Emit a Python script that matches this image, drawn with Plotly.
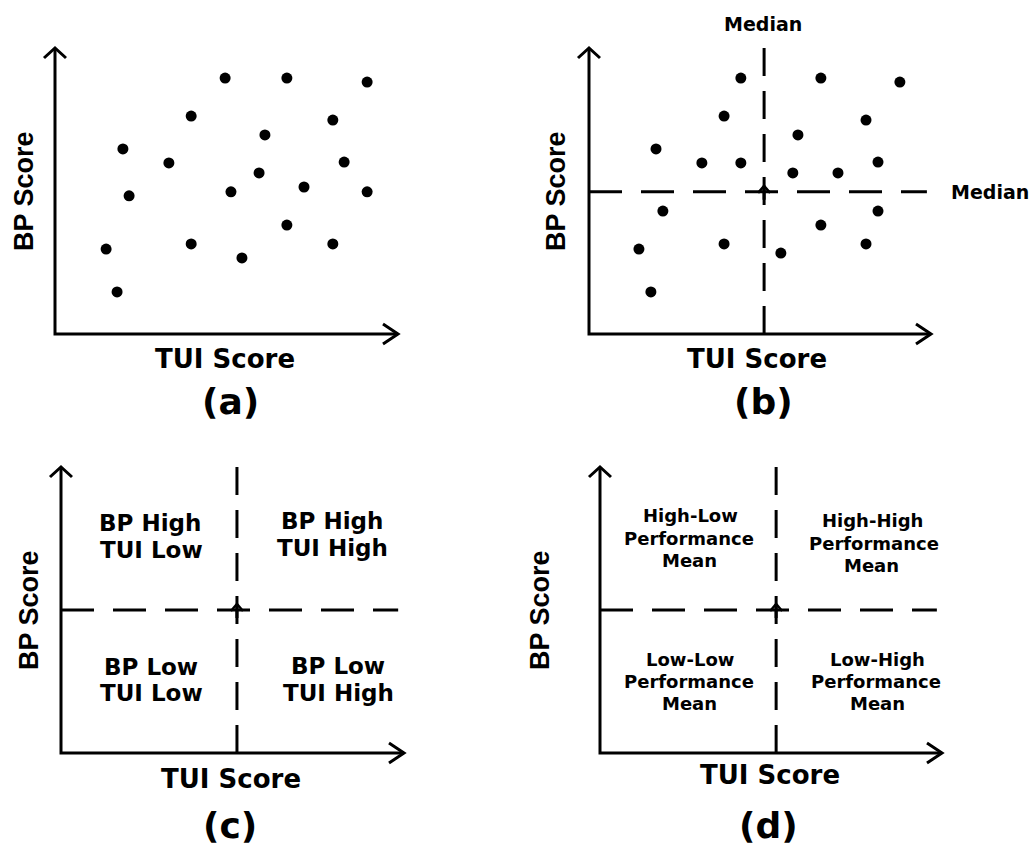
import plotly.graph_objects as go

W, H = 1036, 855
FONT = "Liberation Sans, Arial, sans-serif"
FONT_WIDE = "DejaVu Sans, Verdana, sans-serif"

# ---------------- data (score units, 0-10 on each axis) ----------------
tui_a = [4.96, 6.76, 9.10, 3.97, 8.10, 6.12, 1.98, 3.32, 8.43, 5.95,
         2.16, 5.13, 7.26, 9.10, 6.76, 1.49, 3.97, 8.10, 5.45, 1.81]
bp_a = [8.95, 8.95, 8.81, 7.62, 7.48, 6.96, 6.47, 5.98, 6.01, 5.63,
        4.83, 4.97, 5.14, 4.97, 3.81, 2.97, 3.15, 3.15, 2.66, 1.47]

tui_b = [4.44, 6.78, 9.09, 3.95, 8.10, 6.11, 1.96, 3.30, 4.44, 8.45,
         5.96, 7.28, 2.16, 8.45, 6.78, 1.46, 3.95, 8.10, 5.61, 1.81]
bp_b = [8.95, 8.95, 8.81, 7.62, 7.48, 6.96, 6.47, 5.98, 5.98, 6.01,
        5.63, 5.63, 4.30, 4.30, 3.81, 2.97, 3.15, 3.15, 2.83, 1.47]

median_tui = {"b": 5.12, "c": 5.13, "d": 5.15}
median_bp = {"b": 4.97, "c": 5.00, "d": 5.00}
median_end = {"b": 9.88, "c": 9.83, "d": 9.85}

x_title = "TUI Score"
y_title = "BP Score"
panel_labels = ["(a)", "(b)", "(c)", "(d)"]
median_label = "Median"

quad_c = ["BP High", "TUI Low", "BP High", "TUI High",
          "BP Low", "TUI Low", "BP Low", "TUI High"]
quad_d = ["High-Low", "Performance", "Mean",
          "High-High", "Performance", "Mean",
          "Low-Low", "Performance", "Mean",
          "Low-High", "Performance", "Mean"]

# ---------------- layout geometry (pixels) ----------------
panels = {
    "a": dict(i=1, x0=55, x1=398, y0=334, y1=48),
    "b": dict(i=2, x0=589, x1=931, y0=334, y1=48),
    "c": dict(i=3, x0=61, x1=404, y0=753, y1=467),
    "d": dict(i=4, x0=600, x1=942, y0=753, y1=467),
}
title_pos = {
    "a": dict(tx=(225, 359), ty=(24, 191), lab=(230, 401)),
    "b": dict(tx=(757, 359), ty=(556, 191), lab=(763, 401)),
    "c": dict(tx=(231, 779), ty=(29, 610), lab=(230, 825)),
    "d": dict(tx=(770, 775), ty=(540, 610), lab=(768, 825)),
}
quad_c_pos = [(150, 523), (151, 550), (332, 521), (332, 548),
              (151, 667), (151, 693), (338, 666), (338, 693)]
quad_d_pos = [(690, 515), (689, 538), (689, 560),
              (872, 520), (874, 543), (871, 565),
              (690, 659), (689, 681), (689, 703),
              (877, 659), (876, 681), (877, 703)]

RANGE = 10.0
PAD = 0.6   # extra range so the arrow heads are not clipped


def px(x):
    return x / W


def py(y):
    return 1 - y / H


fig = go.Figure()
shapes = []
annotations = []


def label(text, x, y, size, family=FONT_WIDE, angle=0):
    annotations.append(dict(text=f"<b>{text}</b>", x=px(x), y=py(y),
                            xref="paper", yref="paper", showarrow=False,
                            xanchor="center", yanchor="middle", textangle=angle,
                            font=dict(family=family, size=size, color="black")))


for key, p in panels.items():
    i = p["i"]
    xa, ya = f"x{i}", f"y{i}"
    sx = (p["x1"] - p["x0"]) / RANGE   # px per unit
    sy = (p["y0"] - p["y1"]) / RANGE
    fig.update_layout({
        f"xaxis{i}": dict(domain=[px(p["x0"] - PAD * sx), px(p["x1"] + PAD * sx)],
                          range=[-PAD, RANGE + PAD],
                          visible=False, anchor=ya, fixedrange=True),
        f"yaxis{i}": dict(domain=[py(p["y0"] + PAD * sy), py(p["y1"] - PAD * sy)],
                          range=[-PAD, RANGE + PAD],
                          visible=False, anchor=xa, fixedrange=True),
    })
    # axis lines
    shapes.append(dict(type="path", xref=xa, yref=ya,
                       path=f"M 0,{RANGE} L 0,0 L {RANGE},0",
                       line=dict(color="black", width=3)))
    # arrow heads (open chevrons)
    ax, ay = 11 / sx, 10 / sy
    shapes.append(dict(type="path", xref=xa, yref=ya,
                       path=f"M {-ax},{RANGE - ay} L 0,{RANGE} L {ax},{RANGE - ay}",
                       line=dict(color="black", width=3)))
    bx, by = 15 / sx, 10 / sy
    shapes.append(dict(type="path", xref=xa, yref=ya,
                       path=f"M {RANGE - bx},{by} L {RANGE},0 L {RANGE - bx},{-by}",
                       line=dict(color="black", width=3)))
    # median dashed lines
    if key in median_tui:
        mx, my = median_tui[key], median_bp[key]
        shapes.append(dict(type="line", xref=xa, yref=ya, x0=0, x1=median_end[key],
                           y0=my, y1=my, line=dict(color="black", width=3, dash="33px,19px")))
        shapes.append(dict(type="line", xref=xa, yref=ya, x0=mx, x1=mx,
                           y0=RANGE, y1=0, line=dict(color="black", width=3, dash="28px,15px")))
        # small arrow mark at the crossing
        cx, cy = 6 / sx, 7 / sy
        tip = my + 6 / sy
        shapes.append(dict(type="path", xref=xa, yref=ya,
                           path=f"M {mx - cx},{tip - cy} L {mx},{tip} L {mx + cx},{tip - cy}",
                           line=dict(color="black", width=2.5)))
        shapes.append(dict(type="line", xref=xa, yref=ya, x0=mx, x1=mx,
                           y0=my - 8 / sy, y1=tip,
                           line=dict(color="black", width=3)))

    tp = title_pos[key]
    label(x_title, tp["tx"][0], tp["tx"][1], 26)
    label(y_title, tp["ty"][0], tp["ty"][1], 27, family=FONT, angle=-90)
    label(panel_labels[i - 1], tp["lab"][0], tp["lab"][1], 36)

# scatter points
fig.add_trace(go.Scatter(x=tui_a, y=bp_a, mode="markers", xaxis="x1", yaxis="y1",
                         marker=dict(size=11, color="black"), showlegend=False, hoverinfo="skip"))
fig.add_trace(go.Scatter(x=tui_b, y=bp_b, mode="markers", xaxis="x2", yaxis="y2",
                         marker=dict(size=11, color="black"), showlegend=False, hoverinfo="skip"))
fig.add_trace(go.Scatter(x=[], y=[], xaxis="x3", yaxis="y3", showlegend=False))
fig.add_trace(go.Scatter(x=[], y=[], xaxis="x4", yaxis="y4", showlegend=False))

# median labels
for (x, y) in [(763, 24), (990, 192)]:
    label(median_label, x, y, 19)

for txt, (x, y) in zip(quad_c, quad_c_pos):
    label(txt, x, y, 23)
for txt, (x, y) in zip(quad_d, quad_d_pos):
    label(txt, x, y, 18)

fig.update_layout(width=W, height=H, margin=dict(l=0, r=0, t=0, b=0),
                  paper_bgcolor="white", plot_bgcolor="white",
                  shapes=shapes, annotations=annotations, showlegend=False)

fig.write_html("out.html", config={"displayModeBar": False},
               post_script="document.body.style.margin='0';document.body.style.padding='0';")
